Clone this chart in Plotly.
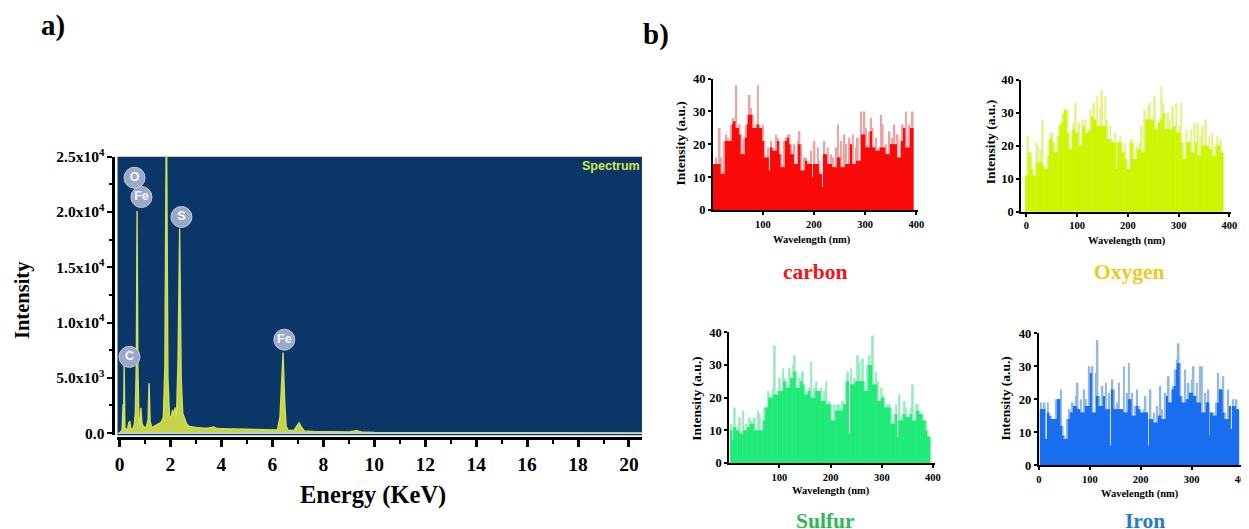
import plotly.graph_objects as go

# ---------------- data: panel a) EDS spectrum ----------------
eds_energy = [0.00, 0.05, 0.10, 0.14, 0.16, 0.18, 0.21, 0.26, 0.30, 0.36, 0.40, 0.44,
              0.52, 0.58, 0.62, 0.66, 0.69, 0.72, 0.76, 0.80, 0.84, 0.88, 0.94, 1.00,
              1.06, 1.12, 1.16, 1.20, 1.26, 1.34, 1.44, 1.54, 1.64, 1.72, 1.78, 1.84,
              1.90, 1.96, 2.02, 2.08, 2.13, 2.18, 2.24, 2.30, 2.36, 2.42, 2.48, 2.56,
              2.64, 2.75, 2.90, 3.10, 3.30, 3.50, 3.70, 3.80, 4.00, 4.30, 4.70, 5.10,
              5.50, 5.90, 6.20, 6.30, 6.36, 6.42, 6.48, 6.54, 6.62, 6.85, 6.98, 7.05,
              7.12, 7.25, 7.60, 8.00, 8.50, 9.00, 9.30, 9.50, 10.0, 12.0, 16.0, 20.5]
eds_counts = [0, 150, 300, 2600, 400, 6300, 500, 300, 250, 900, 1100, 400,
              350, 800, 1800, 6500, 20100, 6000, 1300, 700, 2300, 900, 600, 500,
              600, 1200, 4500, 1100, 500, 600, 700, 850, 1000, 1400, 6000, 30000,
              5000, 1600, 1300, 2100, 1500, 2300, 1700, 6800, 18500, 5000, 1800, 1200,
              800, 600, 520, 480, 440, 460, 560, 420, 400, 380, 330, 300,
              280, 250, 280, 1500, 4500, 7300, 3000, 600, 250, 240, 700, 950,
              600, 200, 160, 140, 120, 100, 220, 100, 70, 50, 30, 20]

peak_labels = ['O', 'Fe', 'S', 'C', 'Fe']
peak_label_energy = [0.59, 0.86, 2.43, 0.39, 6.47]
peak_label_counts = [23100, 21350, 19550, 6900, 8450]

eds_ytick_vals = [0, 5000, 10000, 15000, 20000, 25000]
eds_ytick_text = ['0.0', '5.0x10<sup>3</sup>', '1.0x10<sup>4</sup>',
                  '1.5x10<sup>4</sup>', '2.0x10<sup>4</sup>', '2.5x10<sup>4</sup>']

# ---------------- data: panel b) line-scan profiles ----------------
scan_step = 3.25
scan_xticks = [0, 100, 200, 300, 400]
scan_yticks = [0, 10, 20, 30, 40]

carbon_start = 6.0
carbon_top = [14, 16, 14, 25, 16, 11, 21, 23, 22, 21,
              26, 28, 27, 38, 25, 26, 23, 17, 22, 26,
              29, 35, 31, 29, 25, 26, 38, 26, 25, 26,
              21, 16, 19, 12, 21, 19, 18, 23, 22, 21,
              17, 13, 21, 22, 23, 23, 20, 17, 20, 14,
              21, 24, 20, 12, 16, 16, 15, 14, 18, 10,
              21, 14, 19, 15, 11, 7, 21, 17, 19, 14,
              17, 16, 13, 19, 26, 16, 21, 13, 23, 20,
              14, 22, 20, 23, 14, 19, 22, 15, 30, 23,
              30, 25, 19, 24, 28, 25, 19, 22, 18, 19,
              29, 26, 19, 20, 17, 24, 20, 22, 26, 20,
              23, 16, 21, 26, 25, 30, 19, 26, 25, 30]
carbon_body = [14, 14, 14, 14, 11, 11, 11, 21, 21, 21,
               21, 26, 27, 25, 25, 23, 17, 17, 17, 22,
               26, 29, 29, 25, 25, 25, 26, 25, 25, 21,
               16, 16, 16, 12, 19, 18, 18, 18, 21, 17,
               13, 13, 13, 21, 22, 20, 17, 17, 14, 14,
               14, 20, 12, 12, 12, 15, 14, 14, 14, 10,
               14, 14, 14, 11, 11, 7, 17, 17, 14, 14,
               14, 13, 13, 13, 16, 16, 13, 13, 13, 14,
               14, 14, 20, 14, 14, 14, 15, 15, 15, 23,
               23, 19, 19, 19, 24, 19, 19, 18, 18, 18,
               19, 19, 19, 17, 17, 17, 20, 20, 20, 20,
               16, 16, 16, 21, 25, 19, 19, 19, 25, 25]

oxygen_start = 0.0
oxygen_top = [11, 23, 18, 18, 13, 11, 21, 20, 15, 19,
              28, 14, 13, 17, 22, 24, 24, 21, 18, 23,
              26, 27, 30, 31, 31, 31, 24, 19, 25, 27,
              33, 24, 27, 20, 28, 26, 28, 24, 25, 31,
              29, 33, 28, 35, 26, 32, 37, 26, 35, 28,
              22, 26, 22, 21, 24, 13, 21, 23, 21, 18,
              21, 16, 13, 21, 22, 21, 16, 20, 19, 21,
              26, 18, 31, 28, 32, 33, 28, 29, 35, 25,
              27, 28, 38, 33, 30, 25, 30, 28, 25, 32,
              26, 33, 24, 26, 33, 21, 16, 25, 21, 22,
              25, 18, 27, 21, 27, 17, 23, 26, 20, 28,
              20, 23, 19, 24, 17, 20, 23, 20, 22, 18]
oxygen_body = [11, 11, 18, 13, 11, 11, 11, 15, 15, 15,
               14, 13, 13, 13, 17, 22, 21, 18, 18, 18,
               23, 26, 27, 30, 31, 24, 19, 19, 19, 25,
               24, 24, 20, 20, 20, 26, 24, 24, 24, 25,
               29, 28, 28, 26, 26, 26, 26, 26, 26, 22,
               22, 22, 21, 21, 21, 13, 21, 21, 18, 18,
               16, 13, 13, 13, 21, 16, 16, 16, 19, 19,
               18, 18, 18, 28, 28, 28, 28, 28, 25, 25,
               25, 27, 28, 30, 25, 25, 25, 25, 25, 25,
               26, 24, 24, 24, 21, 16, 16, 16, 21, 21,
               18, 18, 18, 21, 17, 17, 17, 20, 20, 20,
               20, 19, 19, 17, 17, 17, 20, 20, 18, 18]

sulfur_start = 6.5
sulfur_top = [12, 7, 17, 11, 10, 14, 9, 16, 10, 12,
              11, 14, 13, 12, 14, 10, 16, 15, 10, 13,
              17, 17, 22, 21, 20, 23, 36, 21, 22, 26,
              22, 29, 26, 25, 23, 29, 26, 30, 33, 28,
              23, 26, 25, 28, 24, 21, 22, 23, 31, 20,
              23, 25, 22, 22, 23, 19, 22, 25, 18, 19,
              18, 13, 18, 16, 18, 18, 16, 19, 18, 25,
              28, 9, 29, 24, 26, 25, 33, 31, 25, 32,
              25, 22, 30, 33, 30, 39, 24, 28, 25, 19,
              23, 21, 20, 17, 18, 18, 17, 12, 15, 18,
              8, 21, 13, 15, 19, 17, 14, 15, 17, 24,
              13, 18, 18, 16, 15, 15, 13, 13, 10, 8]
sulfur_body = [10, 7, 11, 10, 10, 9, 9, 9, 10, 10,
               11, 11, 12, 12, 10, 10, 10, 10, 10, 10,
               13, 17, 17, 20, 20, 20, 21, 21, 21, 22,
               22, 22, 25, 23, 23, 23, 26, 26, 28, 23,
               23, 23, 25, 24, 21, 21, 21, 22, 20, 20,
               20, 22, 22, 22, 19, 19, 19, 18, 18, 18,
               13, 13, 13, 16, 16, 16, 16, 16, 18, 18,
               25, 9, 24, 24, 24, 25, 25, 25, 25, 25,
               22, 22, 22, 30, 30, 24, 24, 24, 19, 19,
               19, 20, 17, 17, 17, 17, 12, 12, 12, 15,
               8, 13, 13, 13, 15, 14, 14, 14, 15, 13,
               13, 13, 16, 15, 15, 13, 13, 10, 8, 8]

iron_start = 4.6
iron_top = [19, 17, 19, 8, 19, 16, 15, 14, 14, 20,
            20, 20, 23, 12, 9, 8, 14, 17, 16, 19,
            18, 21, 25, 17, 20, 16, 23, 20, 18, 30,
            28, 30, 16, 28, 38, 21, 18, 24, 21, 25,
            17, 22, 6, 26, 23, 17, 19, 25, 17, 17,
            30, 16, 22, 31, 20, 22, 15, 18, 23, 18,
            17, 16, 17, 21, 16, 6, 23, 14, 16, 13,
            18, 15, 24, 17, 14, 22, 21, 27, 19, 23,
            24, 29, 32, 37, 31, 21, 19, 29, 20, 25,
            22, 26, 30, 21, 25, 19, 30, 30, 16, 22,
            19, 23, 9, 16, 16, 15, 19, 28, 23, 23,
            27, 16, 14, 23, 18, 11, 20, 18, 20, 17]
iron_body = [17, 17, 17, 8, 16, 15, 14, 14, 14, 14,
             20, 20, 12, 9, 8, 8, 8, 14, 16, 16,
             18, 18, 17, 17, 16, 16, 16, 18, 18, 18,
             28, 16, 16, 16, 21, 18, 18, 18, 21, 17,
             17, 17, 6, 23, 17, 17, 17, 17, 17, 17,
             16, 16, 16, 20, 20, 15, 15, 15, 18, 17,
             16, 16, 16, 16, 16, 6, 14, 14, 13, 13,
             13, 15, 15, 14, 14, 14, 21, 19, 19, 19,
             23, 24, 29, 31, 21, 19, 19, 19, 20, 20,
             22, 22, 21, 21, 19, 19, 19, 16, 16, 16,
             19, 19, 9, 16, 15, 15, 15, 19, 23, 23,
             16, 14, 14, 14, 18, 11, 18, 18, 17, 17]

# ---------------- layout helpers ----------------
W, H = 1249, 529
SERIF = 'Liberation Serif'
# the page is photographed with a small offset / scale; these compensate it
OX, SX = 10.4, 0.993
OY, SY = 20.0, 0.961


def px(x):
    return ((x - OX) / SX) / W


def py(y):
    return 1 - ((y - OY) / SY) / H


fig = go.Figure()

# ---- panel a) ----
fig.add_trace(go.Scatter(
    x=eds_energy, y=eds_counts, mode='lines',
    line=dict(color='#cfe05c', width=1.4),
    fill='tozeroy', fillcolor='#c6d44a',
    xaxis='x', yaxis='y', hoverinfo='skip'))
fig.add_trace(go.Scatter(
    x=peak_label_energy, y=peak_label_counts, mode='markers+text',
    text=peak_labels, textposition='middle center',
    textfont=dict(family='Liberation Sans', size=12.5, color='#f4f6fa', weight='bold'),
    marker=dict(size=21, color='#9aaac6', line=dict(color='#c3cde0', width=1)),
    cliponaxis=False, xaxis='x', yaxis='y', hoverinfo='skip'))

# ---- panel b) ----
panels = [
    ('2', carbon_start, carbon_top, carbon_body, '#e9a4a4', '#fa0a0a'),
    ('3', oxygen_start, oxygen_top, oxygen_body, '#e6f288', '#ccf500'),
    ('4', sulfur_start, sulfur_top, sulfur_body, '#96ecbd', '#1fea78'),
    ('5', iron_start, iron_top, iron_body, '#93b8e2', '#1a6ef0'),
]
for ax, start, top, body, light, dark in panels:
    wl = [start + scan_step * i for i in range(len(top))]
    fig.add_trace(go.Bar(x=wl, y=top, width=3.5, marker=dict(color=light, line=dict(width=0)),
                         xaxis='x' + ax, yaxis='y' + ax, hoverinfo='skip'))
    fig.add_trace(go.Bar(x=wl[:len(body)], y=body, width=3.5, marker=dict(color=dark, line=dict(width=0)),
                         xaxis='x' + ax, yaxis='y' + ax, hoverinfo='skip'))

axis_common = dict(showline=True, linecolor='black', showgrid=False, zeroline=False,
                   ticks='outside', tickcolor='black')

layout = dict(
    width=W, height=H, margin=dict(l=0, r=0, t=0, b=0),
    paper_bgcolor='white', plot_bgcolor='rgba(0,0,0,0)',
    showlegend=False, barmode='overlay',
    xaxis=dict(domain=[px(117), px(642)], range=[-0.08, 20.51],
               anchor='free', position=py(437),
               tick0=0, dtick=2, ticklen=7, tickwidth=2.5, linewidth=3,
               minor=dict(tick0=0, dtick=1, ticks='outside', ticklen=4, tickwidth=2, tickcolor='black'),
               tickfont=dict(family=SERIF, size=19.5, color='black', weight='bold'),
               **axis_common),
    yaxis=dict(domain=[py(434), py(157)], range=[-182, 25000],
               anchor='free', position=px(113),
               tickmode='array', tickvals=eds_ytick_vals, ticktext=eds_ytick_text,
               ticklen=5, tickwidth=2, linewidth=3,
               minor=dict(tickmode='linear', tick0=0, dtick=2500, ticks='outside', ticklen=3,
                          tickwidth=2, tickcolor='black'),
               tickfont=dict(family=SERIF, size=15.5, color='black', weight='bold'),
               **axis_common),
)

scan_geom = {
    # ax: (x left px, x right px, range0, range1, y bottom px, y top px)
    '2': (713, 918, 2.54, 402.5, 210, 79.3),
    '3': (1021.7, 1232, -9.84, 404.1, 211.7, 80.7),
    '4': (729.3, 935, 1.95, 403.3, 461.7, 331.7),
    '5': (1039.3, 1249, 0.0, 411.2, 464, 332.7),
}
for ax, (xl, xr, r0, r1, yb, yt) in scan_geom.items():
    layout['xaxis' + ax] = dict(domain=[px(xl), min(px(xr), 1.0)], range=[r0, r1], anchor='y' + ax,
                                tickmode='array', tickvals=scan_xticks,
                                ticklen=3, tickwidth=1.5, linewidth=2,
                                tickfont=dict(family=SERIF, size=10.5, color='black', weight='bold'),
                                **axis_common)
    layout['yaxis' + ax] = dict(domain=[py(yb), py(yt)], range=[0, 40], anchor='x' + ax,
                                tickmode='array', tickvals=scan_yticks,
                                ticklen=3, tickwidth=1.5, linewidth=2,
                                tickfont=dict(family=SERIF, size=12.5, color='black', weight='bold'),
                                **axis_common)

fig.update_layout(**layout)

# blue plotting area of panel a)
fig.add_shape(type='rect', xref='x domain', yref='y domain', x0=0, x1=1, y0=0, y1=1,
              fillcolor='#0b3768', line=dict(width=0), layer='below')
fig.add_shape(type='line', xref='x domain', yref='y', x0=0, x1=1, y0=0, y1=0,
              line=dict(color='#c8d0da', width=1.5), layer='above')


def ann(text, x, y, size, color='black', angle=0, family=SERIF, bold=True, xanchor='center'):
    fig.add_annotation(text=text, x=px(x), y=py(y), xref='paper', yref='paper',
                       showarrow=False, textangle=angle, xanchor=xanchor, yanchor='middle',
                       font=dict(family=family, size=size, color=color,
                                 weight='bold' if bold else 'normal'))


ann('a)', 52, 26, 29)
ann('b)', 656, 35, 29)
ann('Intensity', 22, 300, 20.5, angle=-90)
ann('Energy (KeV)', 373, 494, 24.5)
ann('Spectrum', 642, 166, 12.5, color='#d6e650', family='Liberation Sans', xanchor='right')

ann('Intensity (a.u.)', 681, 144, 13.5, angle=-90)
ann('Wavelength (nm)', 812, 240, 10.5)
ann('carbon', 816, 272, 21.5, color='#f51414')

ann('Intensity (a.u.)', 991, 143, 13.5, angle=-90)
ann('Wavelength (nm)', 1128, 241, 10.5)
ann('Oxygen', 1130, 272, 21.5, color='#f0c81e')

ann('Intensity (a.u.)', 697, 398, 13.5, angle=-90)
ann('Wavelength (nm)', 831, 490, 10.5)
ann('Sulfur', 826, 519, 21.5, color='#2cb854')

ann('Intensity (a.u.)', 1006, 398, 13.5, angle=-90)
ann('Wavelength (nm)', 1141, 493, 10.5)
ann('Iron', 1146, 519, 21.5, color='#1f7bd4')

fig.write_html('out.html')
